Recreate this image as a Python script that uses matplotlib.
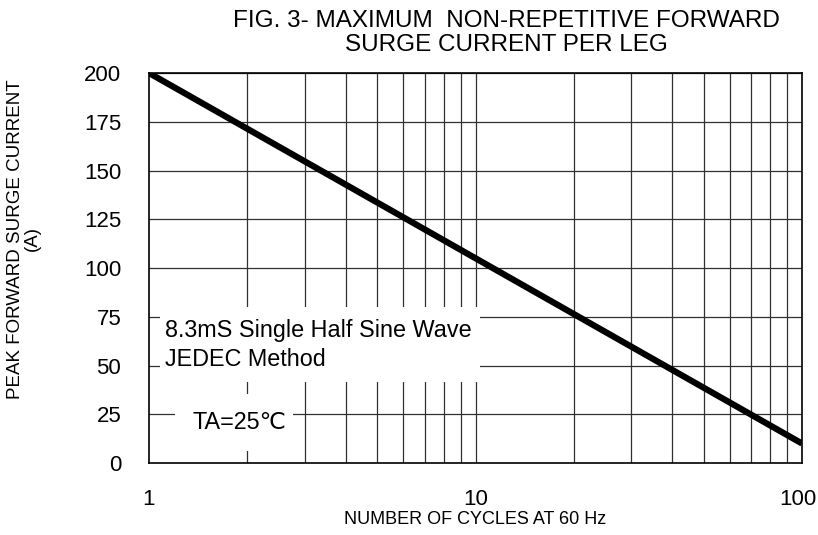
import matplotlib
matplotlib.use("Agg")
import matplotlib.pyplot as plt
import matplotlib.transforms as mtransforms
from matplotlib.patches import Rectangle

# surge current vs number of cycles
cycles = [1, 100]
current = [200, 10]
xticks = [1, 10, 100]
xticklabels = ["1", "10", "100"]
yticks = [0, 25, 50, 75, 100, 125, 150, 175, 200]
minor_x = [2, 3, 4, 5, 6, 7, 8, 9, 20, 30, 40, 50, 60, 70, 80, 90]

plt.rcParams['font.family'] = ['Liberation Sans', 'DejaVu Sans']

fig = plt.figure(figsize=(8.18, 5.35), dpi=100)
ax = fig.add_axes([149/818, (535-463)/535, 653/818, 390/535])

ax.set_xscale('log')
ax.set_xlim(1, 100)
ax.set_ylim(0, 200)

# grid
for v in minor_x + [10]:
    ax.axvline(v, color='#303030', lw=0.9, zorder=1)
for v in yticks[1:]:
    ax.axhline(v, color='#303030', lw=0.9, zorder=1)

# white boxes behind the notes
ax.add_patch(Rectangle((0.017, 0.208), 0.49, 0.192, transform=ax.transAxes,
                       facecolor='white', edgecolor='none', zorder=2))
ax.add_patch(Rectangle((0.04, 0.031), 0.18, 0.145, transform=ax.transAxes,
                       facecolor='white', edgecolor='none', zorder=2))

ax.plot(cycles, current, color='black', lw=4.5, zorder=3, solid_capstyle='butt')

ax.text(0.025, 0.368, "8.3mS Single Half Sine Wave\nJEDEC Method", transform=ax.transAxes,
        fontsize=16.8, va='top', ha='left', linespacing=1.28, zorder=4)
ax.text(0.066, 0.105, "TA=25℃", transform=ax.transAxes,
        fontsize=16.8, va='center', ha='left', zorder=4)

ax.set_xticks(xticks)
ax.set_xticklabels(xticklabels)
ax.xaxis.set_minor_locator(plt.NullLocator())
ax.set_yticks(yticks)
ax.tick_params(axis='both', length=0, labelsize=16)
ax.tick_params(axis='x', pad=19)
ax.tick_params(axis='y', pad=20)
# nudge the last x label a bit left so it stays inside the figure
lab = ax.get_xticklabels()[-1]
lab.set_transform(lab.get_transform() + mtransforms.ScaledTranslation(-4/100, 0, fig.dpi_scale_trans))

for s in ax.spines.values():
    s.set_linewidth(1.2)
    s.set_color('black')

ax.set_xlabel("NUMBER OF CYCLES AT 60 Hz", fontsize=13, labelpad=0.5)
ax.set_ylabel("PEAK FORWARD SURGE CURRENT\n(A)", fontsize=13.5, linespacing=1.05)
ax.yaxis.set_label_coords(-0.165, 0.575)
ax.set_title("FIG. 3- MAXIMUM  NON-REPETITIVE FORWARD\nSURGE CURRENT PER LEG",
             fontsize=17.5, x=0.548, pad=16, linespacing=1.12)

fig.savefig("out.png", dpi=100)
